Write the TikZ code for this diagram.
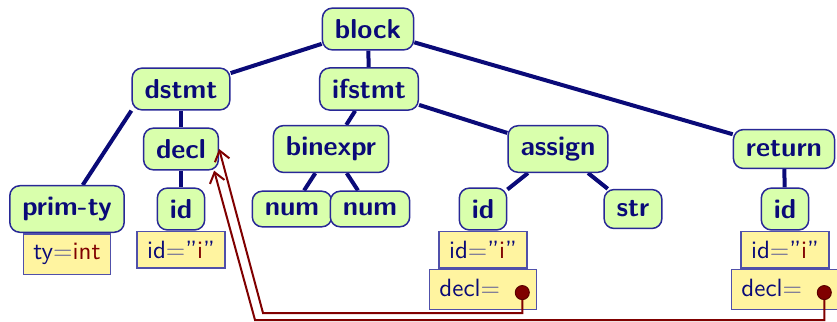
\documentclass[tikz,border=0pt]{standalone}
\usepackage{fontspec}
\usetikzlibrary{positioning,backgrounds,arrows.meta}

\definecolor{astblue}{RGB}{10,10,120}
\definecolor{astline}{RGB}{40,40,150}
\definecolor{astgreen}{RGB}{217,255,172}
\definecolor{attryellow}{RGB}{255,244,160}
\definecolor{attrline}{RGB}{80,80,170}
\definecolor{attrgray}{RGB}{90,90,150}
\definecolor{ptrred}{RGB}{128,0,0}

\newcommand{\attreq}{\textcolor{attrgray}{=}}
\newcommand{\attrval}[1]{\textcolor{ptrred}{#1}}

\tikzset{
  astnode/.style={draw=astline, line width=0.6pt, fill=astgreen, rounded corners=4pt,
    inner xsep=5pt, inner ysep=4.5pt, text=astblue,
    font=\fontsize{10.95}{13}\selectfont\sffamily\bfseries},
  attrbox/.style={draw=attrline, line width=0.6pt, fill=attryellow, anchor=north,
    inner xsep=4pt, inner ysep=3.8pt, text=astblue, font=\sffamily},
  astedge/.style={astblue, line width=1.6pt},
  ptrdot/.style={circle, fill=ptrred, draw=ptrred!70!black, inner sep=0pt, minimum size=5.6pt},
  ptr/.style={draw=ptrred, line width=0.8pt, -{Straight Barb[length=4pt,width=6pt]}},
}

\begin{document}
\begin{tikzpicture}[x=0.4pt,y=-0.4pt]
  \useasboundingbox (0,0) rectangle (837,321);
  % tree
  \node[astnode] (block)    at (368,29)  {block};
  \node[astnode] (dstmt)    at (181,89)  {dstmt};
  \node[astnode] (ifstmt)   at (369,89)  {ifstmt};
  \node[astnode] (decl)     at (181,149) {decl};
  \node[astnode] (binexpr)  at (331,149) {binexpr};
  \node[astnode] (assign)   at (558,149) {assign};
  \node[astnode] (return)   at (784,149) {return};
  \node[astnode] (primty)   at (67,209)  {prim-ty};
  \node[astnode] (declid)   at (181,209) {id};
  \node[astnode] (numa)     at (292,209) {num};
  \node[astnode] (numb)     at (370,209) {num};
  \node[astnode] (assignid) at (483,209) {id};
  \node[astnode] (str)      at (633,209) {str};
  \node[astnode] (retid)    at (785,209) {id};
  % attributes
  \node[attrbox] (tyattr)     at (primty.south)   {ty\attreq\attrval{int}};
  \node[attrbox] (declidattr) at (declid.south)   {id\attreq"\attrval{i}"};
  \node[attrbox] (assignattr) at (assignid.south) {id\attreq"\attrval{i}"};
  \node[attrbox, text depth=1.5pt] (assigndecl) at (assignattr.south) {decl\attreq\rule{10.6pt}{0pt}};
  \node[attrbox] (retattr)    at (retid.south)    {id\attreq"\attrval{i}"};
  \node[attrbox, text depth=1.5pt] (retdecl) at (retattr.south) {decl\attreq\rule{10.6pt}{0pt}};
  \node[ptrdot] (dota) at ([xshift=-6pt,yshift=-1.2pt]assigndecl.east) {};
  \node[ptrdot] (dotb) at ([xshift=-6pt,yshift=-1.2pt]retdecl.east) {};
  % edges
  \begin{scope}[on background layer]
    \draw[astedge] (block) -- (dstmt);
    \draw[astedge] (block) -- (ifstmt);
    \draw[astedge] (block) -- (return);
    \draw[astedge] (dstmt.south west) -- (primty);
    \draw[astedge] (dstmt) -- (decl);
    \draw[astedge] (decl) -- (declid);
    \draw[astedge] (ifstmt) -- (binexpr);
    \draw[astedge] (ifstmt) -- (assign);
    \draw[astedge] (binexpr) -- (numa);
    \draw[astedge] (binexpr) -- (numb);
    \draw[astedge] (assign) -- (assignid);
    \draw[astedge] (assign) -- (str);
    \draw[astedge] (return) -- (retid);
  \end{scope}
  % pointers back to the declaration
  \coordinate (benda) at (263,313);
  \coordinate (bendb) at (255,320);
  \draw[ptr] (dota.south) |- (benda) -- (decl.east);
  \draw[ptr] (dotb.south) |- (bendb) -- ([xshift=-2pt]decl.south east);
\end{tikzpicture}
\end{document}
